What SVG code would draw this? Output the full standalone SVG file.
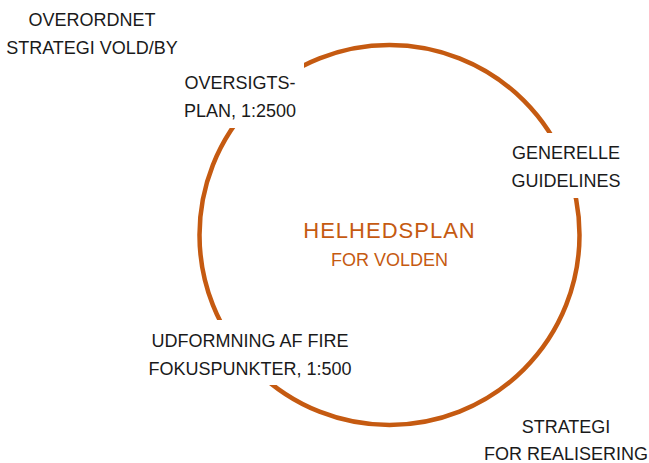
<svg xmlns="http://www.w3.org/2000/svg" width="649" height="463" viewBox="0 0 649 463">
  <style>
    .lbl { font-family: "Liberation Sans", Arial, sans-serif; font-size: 18px; fill: #1a1a1a; text-anchor: middle; }
    .ttl { font-family: "Liberation Sans", Arial, sans-serif; fill: #c55a11; text-anchor: middle; }
    .mask { fill: #ffffff; }
    .ring { fill: none; stroke: #c55a11; stroke-width: 4.5; }
  </style>
  <rect width="649" height="463" fill="#ffffff"/>
  <g id="connectors">
    <circle class="ring" cx="389.5" cy="235" r="190"/>
  </g>
  <g id="node-overordnet">
    <text class="lbl" x="92" y="26">OVERORDNET</text>
    <text class="lbl" x="92" y="54">STRATEGI VOLD/BY</text>
  </g>
  <g id="node-oversigtsplan">
    <rect class="mask" x="176" y="62" width="128" height="66"/>
    <text class="lbl" x="240" y="89">OVERSIGTS-</text>
    <text class="lbl" x="240" y="117">PLAN, 1:2500</text>
  </g>
  <g id="node-guidelines">
    <rect class="mask" x="507" y="133" width="119" height="65"/>
    <text class="lbl" x="566" y="159">GENERELLE</text>
    <text class="lbl" x="566" y="187">GUIDELINES</text>
  </g>
  <g id="node-fokuspunkter">
    <rect class="mask" x="140" y="320" width="220" height="65"/>
    <text class="lbl" x="250" y="347">UDFORMNING AF FIRE</text>
    <text class="lbl" x="250" y="375">FOKUSPUNKTER, 1:500</text>
  </g>
  <g id="node-realisering">
    <text class="lbl" x="566" y="433">STRATEGI</text>
    <text class="lbl" x="566" y="460">FOR REALISERING</text>
  </g>
  <g id="node-helhedsplan">
    <text class="ttl" x="389.5" y="238" font-size="22" letter-spacing="1">HELHEDSPLAN</text>
    <text class="ttl" x="389.5" y="266" font-size="18">FOR VOLDEN</text>
  </g>
</svg>
